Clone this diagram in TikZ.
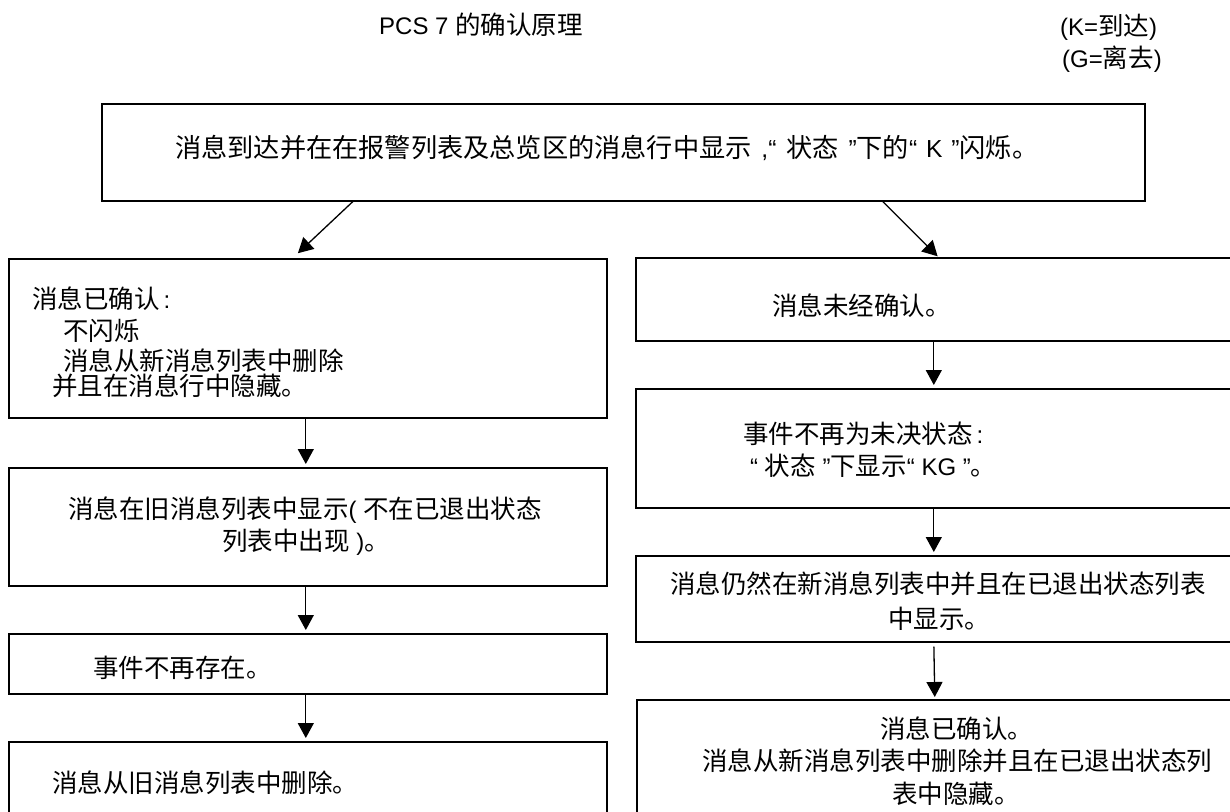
\documentclass[tikz,border=0pt]{standalone}
\usepackage{fontspec}
\setmainfont{Noto Sans CJK SC}
\newfontfamily\latfont[Scale=0.94]{Liberation Sans}
\newcommand{\latn}[1]{{\latfont #1}}
\usetikzlibrary{arrows.meta}
\begin{document}
\begin{tikzpicture}[x=1pt,y=-1pt,
  box/.style={draw, line width=1.6pt, inner sep=0pt, anchor=north west},
  arr/.style={-{Triangle[length=15pt,width=16pt]}, line width=1.3pt, shorten >=3pt},
  txt/.style={anchor=base west, inner sep=0pt, font=\fontsize{25.5}{32}\selectfont}]
\clip (0,0) rectangle (1230,811);
\fill[white] (0,0) rectangle (1230,811);
% boxes
\node[box, minimum width=1043pt, minimum height=97pt] (top) at (101,103) {};
\node[box, minimum width=598pt, minimum height=159pt] (L1) at (8,258) {};
\node[box, minimum width=598pt, minimum height=118pt] (L2) at (8,467) {};
\node[box, minimum width=598pt, minimum height=60pt] (L3) at (8,633) {};
\node[box, minimum width=598pt, minimum height=100pt] (L4) at (8,741) {};
\node[box, minimum width=605pt, minimum height=83pt] (R1) at (635,257) {};
\node[box, minimum width=605pt, minimum height=119pt] (R2) at (635,388) {};
\node[box, minimum width=605pt, minimum height=86pt] (R3) at (635,555) {};
\node[box, minimum width=604pt, minimum height=130pt] (R4) at (636,699) {};
% texts
\node[txt] (title) at (379,34) {\latn{PCS 7 }的确认原理};
\node[txt] (kk) at (1060,35) {\latn{(K=}到达\latn{)}};
\node[txt] (gg) at (1062,67) {\latn{(G=}离去\latn{)}};
\node[txt, font=\fontsize{26.2}{32}\selectfont] (t0) at (175,157) {消息到达并在在报警列表及总览区的消息行中显示\latn{\hspace{3pt} ,“\hspace{3pt} }状态\latn{\hspace{3pt} ”}下的\latn{“\hspace{2pt} K\hspace{2pt} ”}闪烁。};
\node[txt] (t1a) at (32,308) {消息已确认\hspace{4pt}\latn{:}};
\node[txt] (t1b) at (63,340) {不闪烁};
\node[txt] (t1c) at (63,370) {消息从新消息列表中删除};
\node[txt] (t1d) at (52,395) {并且在消息行中隐藏。};
\node[txt] (t2a) at (68,518) {消息在旧消息列表中显示\latn{( }不在已退出状态};
\node[txt] (t2b) at (222,550) {列表中出现\latn{ )}。};
\node[txt] (t3) at (93,677) {事件不再存在。};
\node[txt] (t4) at (52,792) {消息从旧消息列表中删除。};
\node[txt] (r1) at (772,315) {消息未经确认。};
\node[txt] (r2a) at (743,443) {事件不再为未决状态\hspace{4pt}\latn{:}};
\node[txt] (r2b) at (750,475) {\latn{“ }状态\latn{ ”}下显示\latn{“ KG ”}。};
\node[txt] (r3a) at (670,593) {消息仍然在新消息列表中并且在已退出状态列表};
\node[txt] (r3b) at (888,628) {中显示。};
\node[txt] (r4a) at (880,738) {消息已确认。};
\node[txt] (r4b) at (702,770) {消息从新消息列表中删除并且在已退出状态列};
\node[txt] (r4c) at (892,803) {表中隐藏。};
% connectors
\draw[arr, shorten >=7pt] ([xshift=-270.5pt]top.south) -- ([xshift=-15pt]L1.north);
\draw[arr, shorten >=1pt] ([xshift=259.5pt]top.south) -- (R1.north);
\draw[arr] ([xshift=-2pt]L1.south) -- ([xshift=-2pt]L2.north);
\draw[arr] ([xshift=-2pt]L2.south) -- ([xshift=-2pt]L3.north);
\draw[arr] ([xshift=-2pt]L3.south) -- ([xshift=-2pt]L4.north);
\draw[arr] ([xshift=-4.5pt]R1.south) -- ([xshift=-4.5pt]R2.north);
\draw[arr] ([xshift=-4.5pt]R2.south) -- ([xshift=-4.5pt]R3.north);
\draw[arr, shorten <=4pt, shorten >=2pt] ([xshift=-4.5pt]R3.south) -- ([xshift=-4pt]R4.north);
\end{tikzpicture}
\end{document}
